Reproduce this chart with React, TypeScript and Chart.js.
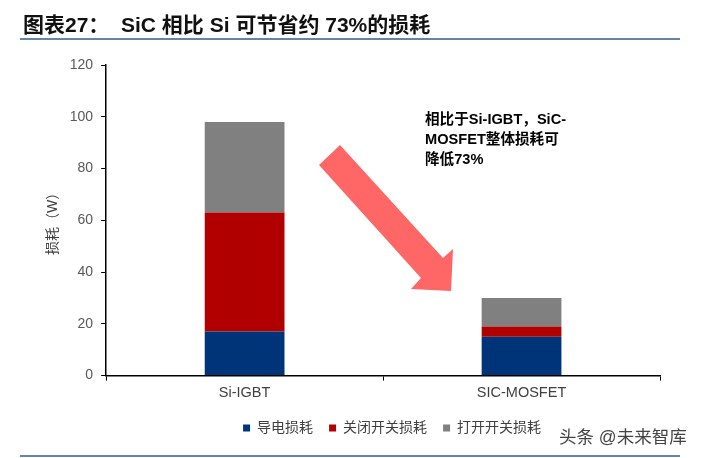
import React, { useEffect, useRef } from "react";
import { Chart, registerables } from "chart.js";

Chart.register(...registerables);

const categories = ["Si-IGBT", "SIC-MOSFET"];
const conduction = [17, 15];
const turnOff = [46, 4];
const turnOn = [35, 11];
const seriesNames = ["导电损耗", "关闭开关损耗", "打开开关损耗"];
const seriesColors = ["#003478", "#b00000", "#808080"];
const yTicks = [0, 20, 40, 60, 80, 100, 120];
const arrowPoints = "319,165 340,145 443,258 453,249 451,291 411,289 421,278";
const noteLines = ["相比于Si-IGBT，SiC-", "MOSFET整体损耗可", "降低73%"];
const FONT = '"Liberation Sans", "Noto Sans CJK SC", sans-serif';

const legendShift = {
  id: "legendShift",
  afterLayout(chart: any) {
    if (chart.legend) {
      chart.legend.left += 9;
      chart.legend.right += 9;
      chart.legend.top -= 1;
      chart.legend.bottom -= 1;
    }
  },
};

export default function App() {
  const ref = useRef<HTMLCanvasElement>(null);
  useEffect(() => {
    const chart = new Chart(ref.current!, {
      type: "bar",
      plugins: [legendShift],
      data: {
        labels: categories,
        datasets: [conduction, turnOff, turnOn].map((data, i) => ({
          label: seriesNames[i],
          data,
          backgroundColor: seriesColors[i],
          categoryPercentage: 1,
          barPercentage: 0.288,
        })),
      },
      options: {
        responsive: false,
        animation: false,
        devicePixelRatio: 1,
        layout: { padding: { left: 45, right: 41, top: 65, bottom: 12 } },
        plugins: {
          tooltip: { enabled: false },
          legend: {
            position: "bottom",
            fullSize: false,
            labels: {
              boxWidth: 7,
              boxHeight: 7,
              padding: 16,
              color: "#404040",
              font: { family: FONT, size: 14 },
            },
          },
        },
        scales: {
          x: {
            stacked: true,
            border: { color: "#000", width: 1.5 },
            grid: { drawOnChartArea: false, drawTicks: true, tickLength: 5, color: "#000" },
            ticks: { color: "#404040", font: { family: FONT, size: 14.5 }, padding: 4, maxRotation: 0 },
          },
          y: {
            stacked: true,
            min: 0,
            max: 120,
            afterBuildTicks: (s: any) => {
              s.ticks = yTicks.map((value) => ({ value }));
            },
            border: { color: "#000", width: 1.5 },
            grid: { drawOnChartArea: false, drawTicks: true, tickLength: 5, color: "#000" },
            ticks: { color: "#595959", font: { family: FONT, size: 14 }, padding: 8 },
            title: {
              display: true,
              text: "损耗（W）",
              color: "#404040",
              font: { family: FONT, size: 14 },
              padding: { top: 0, bottom: 0 },
            },
          },
        },
      },
    });
    return () => chart.destroy();
  }, []);

  return (
    <div style={{ position: "absolute", left: 0, top: 0, width: 701, height: 458, background: "#fff", overflow: "hidden", fontFamily: FONT }}>
      <canvas ref={ref} width={701} height={458} style={{ position: "absolute", left: 0, top: 0 }} />
      <div style={{ position: "absolute", left: 23, top: 12, fontSize: 21, fontWeight: 700, color: "#111", whiteSpace: "pre", lineHeight: "26px" }}>
        图表27：  SiC 相比 Si 可节省约 73%的损耗
      </div>
      <div style={{ position: "absolute", left: 20, top: 38, width: 660, height: 2, background: "#6484a8" }} />
      <div style={{ position: "absolute", left: 20, top: 455, width: 660, height: 2, background: "#6484a8" }} />
      <svg width={701} height={458} style={{ position: "absolute", left: 0, top: 0 }}>
        <polygon points={arrowPoints} fill="#ff6666" />
      </svg>
      <div style={{ position: "absolute", left: 425, top: 109, fontSize: 14.6, fontWeight: 700, color: "#000", lineHeight: "20px", whiteSpace: "pre" }}>
        {noteLines.join("\n")}
      </div>
      <div style={{ position: "absolute", left: 559, top: 423, fontSize: 17.5, color: "#444", whiteSpace: "pre" }}>头条 @未来智库</div>
    </div>
  );
}
